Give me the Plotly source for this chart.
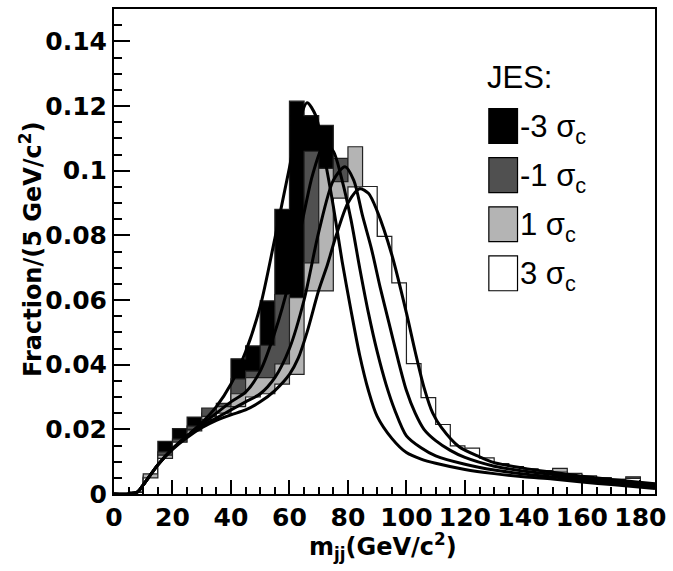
import plotly.graph_objects as go

# bin edges of the 5 GeV/c^2 histograms
bin_edges = list(range(0, 190, 5))

# histogram contents (fraction per bin), one list per JES shift
hist_m3 = [0, 0.0005, 0.005, 0.0163, 0.0202, 0.0238, 0.025, 0.027, 0.0418, 0.0458,
           0.0597, 0.088, 0.1215, 0.117, 0.114, 0.085, 0.058, 0.036, 0.022, 0.016,
           0.013, 0.0115, 0.0105, 0.0095, 0.0088, 0.008, 0.0075, 0.007, 0.0066, 0.0062,
           0.0058, 0.0054, 0.005, 0.0046, 0.0042, 0.0038, 0.003]
hist_m1 = [0, 0.0005, 0.0055, 0.013, 0.017, 0.021, 0.0266, 0.028, 0.0356, 0.038,
           0.046, 0.0617, 0.059, 0.106, 0.100, 0.1038, 0.085, 0.058, 0.036, 0.024,
           0.017, 0.014, 0.012, 0.0105, 0.0095, 0.0088, 0.008, 0.0075, 0.007, 0.0066,
           0.006, 0.0056, 0.0052, 0.0048, 0.0044, 0.0053, 0.0032]
hist_p1 = [0, 0.0005, 0.0062, 0.012, 0.016, 0.020, 0.024, 0.027, 0.031, 0.036,
           0.036, 0.0402, 0.0607, 0.0715, 0.1007, 0.0966, 0.1074, 0.085, 0.062, 0.042,
           0.027, 0.019, 0.016, 0.013, 0.0115, 0.0098, 0.009, 0.0082, 0.0076, 0.007,
           0.0079, 0.006, 0.0054, 0.005, 0.0045, 0.0042, 0.0032]
hist_p3 = [0, 0.0005, 0.005, 0.011, 0.016, 0.0195, 0.023, 0.025, 0.027, 0.030,
           0.031, 0.034, 0.037, 0.0628, 0.0628, 0.0915, 0.095, 0.0951, 0.0797, 0.0653,
           0.0403, 0.0298, 0.0215, 0.0149, 0.0142, 0.0112, 0.0094, 0.0085, 0.0078, 0.0072,
           0.0068, 0.0064, 0.0056, 0.0051, 0.0045, 0.0048, 0.0033]

# fitted template curves
fit_m3_x = [0, 5, 8, 10, 15, 20, 25, 30, 35, 40, 45, 50, 55, 60, 63, 66, 69, 72, 75, 78,
            81, 84, 87, 90, 95, 100, 105, 110, 120, 130, 140, 150, 160, 170, 185]
fit_m3_y = [0, 0, 0.0006, 0.0028, 0.009, 0.014, 0.018, 0.022, 0.027, 0.034, 0.044, 0.058,
            0.079, 0.101, 0.114, 0.121, 0.117, 0.104, 0.089, 0.072, 0.057, 0.043, 0.032,
            0.024, 0.0172, 0.0128, 0.0108, 0.0095, 0.0076, 0.0063, 0.0053, 0.0046, 0.0037,
            0.0029, 0.0017]
fit_m1_x = [0, 5, 8, 10, 15, 20, 25, 30, 35, 40, 45, 50, 55, 60, 65, 68, 72, 75, 78, 81,
            84, 87, 90, 93, 96, 100, 105, 110, 120, 130, 140, 150, 160, 170, 185]
fit_m1_y = [0, 0, 0.0006, 0.0028, 0.009, 0.014, 0.018, 0.0215, 0.025, 0.0285, 0.0315, 0.038,
            0.050, 0.066, 0.087, 0.099, 0.1084, 0.106, 0.097, 0.085, 0.070, 0.056, 0.044,
            0.034, 0.026, 0.018, 0.0143, 0.0118, 0.0092, 0.0074, 0.0062, 0.0053, 0.0043,
            0.0034, 0.0022]
fit_p1_x = [0, 5, 8, 10, 15, 20, 25, 30, 35, 40, 45, 50, 55, 60, 65, 70, 75, 79, 82, 85,
            88, 91, 94, 97, 100, 103, 106, 110, 115, 120, 130, 140, 150, 160, 170, 185]
fit_p1_y = [0, 0, 0.0006, 0.0028, 0.009, 0.014, 0.0178, 0.021, 0.0235, 0.026, 0.0285, 0.031,
            0.036, 0.045, 0.060, 0.081, 0.097, 0.1012, 0.097, 0.086, 0.076, 0.064, 0.053,
            0.042, 0.032, 0.025, 0.020, 0.0165, 0.0135, 0.0113, 0.0086, 0.0071, 0.006,
            0.0049, 0.0039, 0.0027]
fit_p3_x = [0, 5, 8, 10, 15, 20, 25, 30, 35, 40, 45, 50, 55, 60, 63, 66, 70, 73, 76, 80,
            84, 87, 90, 95, 100, 103, 106, 109, 112, 118, 125, 130, 140, 150, 160, 170, 185]
fit_p3_y = [0, 0, 0.0006, 0.0028, 0.009, 0.0138, 0.0175, 0.0205, 0.0228, 0.0245, 0.026,
            0.0285, 0.032, 0.037, 0.042, 0.050, 0.063, 0.071, 0.080, 0.090, 0.0944, 0.093,
            0.0875, 0.074, 0.056, 0.044, 0.033, 0.025, 0.0205, 0.0146, 0.0115, 0.0097,
            0.008, 0.0067, 0.0055, 0.0045, 0.0032]

labels = ["-3 σ<sub>c</sub>", "-1 σ<sub>c</sub>", "1 σ<sub>c</sub>", "3 σ<sub>c</sub>"]
fills = ["#000000", "#505050", "#b4b4b4", "#ffffff"]

fig = go.Figure()

# histograms, drawn in order so later ones cover earlier ones (ROOT "same")
for vals, col in zip([hist_m3, hist_m1, hist_p1, hist_p3], fills):
    fig.add_trace(go.Scatter(
        x=bin_edges, y=vals + [vals[-1]],
        mode="lines", line=dict(shape="hv", color="#222222", width=1.2),
        fill="tozeroy", fillcolor=col, showlegend=False, hoverinfo="skip"))

for fx, fy in [(fit_m3_x, fit_m3_y), (fit_m1_x, fit_m1_y),
               (fit_p1_x, fit_p1_y), (fit_p3_x, fit_p3_y)]:
    fig.add_trace(go.Scatter(
        x=fx, y=fy, mode="lines",
        line=dict(shape="spline", smoothing=0.8, color="black", width=3),
        showlegend=False, hoverinfo="skip"))

# plot frame in pixels
L, R, T, B = 114, 661, 7, 494


def px(x):
    return (x - L) / (R - L)


def py(y):
    return (B - y) / (B - T)


tick_font = dict(family="DejaVu Sans", size=25, color="black", weight="bold")

fig.update_xaxes(range=[0, 185], showgrid=False, zeroline=False,
                 showline=True, linecolor="black", linewidth=2, mirror=True,
                 ticks="inside", ticklen=14, tickwidth=1.5, tickcolor="black",
                 dtick=20, tick0=0, tickfont=tick_font,
                 minor=dict(dtick=5, ticks="inside", ticklen=7, tickwidth=1.5,
                            tickcolor="black", showgrid=False))
fig.update_yaxes(range=[0, 0.15], showgrid=False, zeroline=False,
                 showline=True, linecolor="black", linewidth=2, mirror=True,
                 ticks="inside", ticklen=16, tickwidth=1.5, tickcolor="black",
                 dtick=0.02, tick0=0, tickfont=tick_font,
                 minor=dict(dtick=0.005, ticks="inside", ticklen=8, tickwidth=1.5,
                            tickcolor="black", showgrid=False))

annotations = [
    dict(text="m<sub>jj</sub>(GeV/c<sup>2</sup>)", x=px(386), y=py(547),
         xref="paper", yref="paper", xanchor="center", yanchor="middle",
         showarrow=False, font=dict(family="DejaVu Sans", size=24, color="black",
                                    weight="bold")),
    dict(text="Fraction/(5 GeV/c<sup>2</sup>)", x=px(30), y=py(248),
         xref="paper", yref="paper", xanchor="center", yanchor="middle",
         textangle=-90, showarrow=False,
         font=dict(family="DejaVu Sans", size=24, color="black", weight="bold")),
    dict(text="JES:", x=px(489), y=py(76), xref="paper", yref="paper",
         xanchor="left", yanchor="middle", showarrow=False,
         font=dict(family="Liberation Sans", size=31, color="black")),
]

shapes = []
box_top, box_step, box_h = 107, 49.3, 35
for i, (lab, col) in enumerate(zip(labels, fills)):
    top = box_top + i * box_step
    shapes.append(dict(type="rect", xref="paper", yref="paper",
                       x0=px(493), x1=px(522), y0=py(top + box_h), y1=py(top),
                       fillcolor=col, line=dict(color="black", width=1.2)))
    annotations.append(dict(text=lab, x=px(522), y=py(top + box_h / 2 + 3),
                            xref="paper", yref="paper", xanchor="left",
                            yanchor="middle", showarrow=False,
                            font=dict(family="Liberation Sans", size=31,
                                      color="black")))

fig.update_layout(width=673, height=571,
                  margin=dict(l=L, r=673 - R, t=T, b=571 - B),
                  plot_bgcolor="white", paper_bgcolor="white",
                  annotations=annotations, shapes=shapes)

# drop the browser's default body margin so the figure sits at the page corner
fig.write_html("out.html", config={"displayModeBar": False},
               post_script="document.body.style.margin='0';")
